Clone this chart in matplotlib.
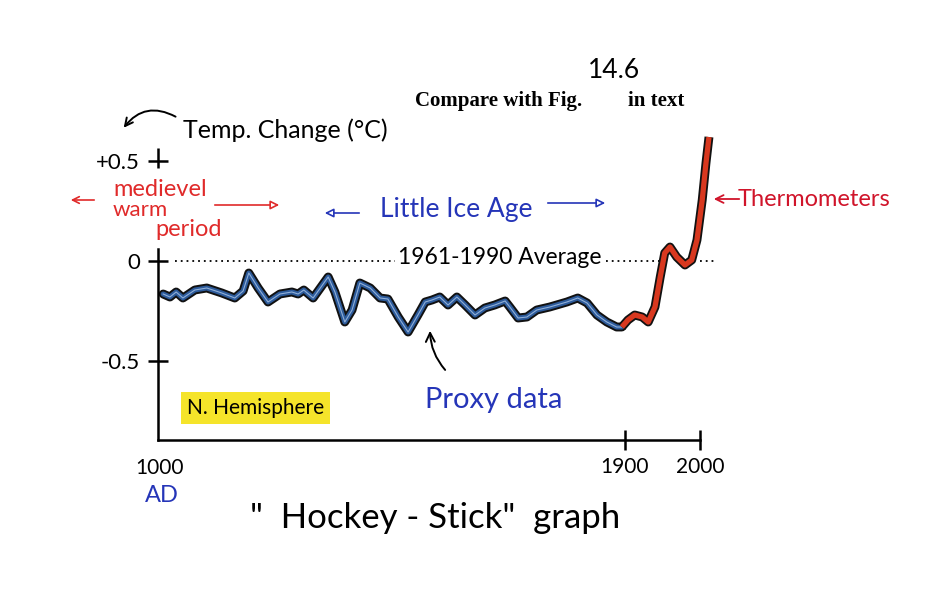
import numpy as np
import matplotlib
matplotlib.use('Agg')
import matplotlib.pyplot as plt
import matplotlib.patheffects as pe
from matplotlib.patches import FancyArrowPatch

# ---------------- data ----------------
proxy_years = [1010, 1023, 1035, 1048, 1071, 1094, 1123, 1148, 1164, 1175,
               1193, 1212, 1235, 1258, 1270, 1281, 1299, 1328, 1341, 1360,
               1374, 1389, 1409, 1428, 1443, 1463, 1482, 1501, 1515, 1528,
               1543, 1559, 1576, 1592, 1611, 1630, 1649, 1669, 1678, 1694,
               1711, 1730, 1755, 1788, 1809, 1827, 1846, 1865, 1884, 1894]
proxy_temps = [-0.165, -0.18, -0.155, -0.185, -0.145, -0.135, -0.16, -0.185, -0.15, -0.06,
               -0.135, -0.205, -0.165, -0.155, -0.165, -0.145, -0.185, -0.08, -0.155, -0.305,
               -0.245, -0.11, -0.135, -0.185, -0.19, -0.28, -0.355, -0.27, -0.205, -0.195,
               -0.18, -0.22, -0.18, -0.22, -0.27, -0.235, -0.22, -0.2, -0.23, -0.285,
               -0.28, -0.245, -0.23, -0.205, -0.185, -0.21, -0.27, -0.305, -0.33, -0.33]

thermo_years = [1894, 1904, 1913, 1923, 1931, 1940, 1947, 1953, 1960, 1969,
                1980, 1989, 1996, 2003, 2008, 2012]
thermo_temps = [-0.33, -0.295, -0.27, -0.28, -0.305, -0.23, -0.08, 0.04, 0.07, 0.02,
                -0.02, 0.005, 0.105, 0.305, 0.49, 0.62]

avg_segments = [(1033, 1457), (1863, 1958), (2000, 2020)]

x_ticks = [1900, 2000]
x_tick_labels = ['1900', '2000']
y_ticks = [0.5, 0, -0.5]
y_tick_labels = ['+0.5', '0', '-0.5']

# ---------------- figure ----------------
W, H = 928, 608
fig = plt.figure(figsize=(W / 100, H / 100), dpi=100)
fig.patch.set_facecolor('white')

def fx(px):
    return px / W

def fy(py):
    return 1 - py / H

HAND = ['Lato', 'DejaVu Sans']

ax = fig.add_axes([fx(158), fy(440), fx(720) - fx(158), fy(121) - fy(440)])
ax.set_facecolor('none')

def fwd(x):
    x = np.asarray(x, dtype=float)
    return np.where(x <= 1900, x - 1000, 900 + (x - 1900) * 1.4454)

def inv(u):
    u = np.asarray(u, dtype=float)
    return np.where(u <= 900, u + 1000, 1900 + (u - 900) / 1.4454)

ax.set_xscale('function', functions=(fwd, inv))
ax.set_xlim(1000, 2026.7)
ax.set_ylim(-0.895, 0.7)

for s in ['top', 'right']:
    ax.spines[s].set_visible(False)
ax.spines['left'].set_bounds(-0.895, 0.06)
ax.spines['bottom'].set_bounds(1000, 2000)
for s in ['left', 'bottom']:
    ax.spines[s].set_linewidth(1.8)
    ax.spines[s].set_color('black')

ax.set_xticks(x_ticks)
ax.set_xticklabels(x_tick_labels, family=HAND, fontsize=15)
ax.set_yticks(y_ticks)
ax.set_yticklabels(y_tick_labels, family=HAND, fontsize=16)
ax.tick_params(axis='x', direction='inout', length=14, width=1.8, pad=5)
ax.tick_params(axis='y', direction='inout', length=14, width=1.8, pad=6)
ax.minorticks_off()
# small vertical stroke of the +0.5 cross
ax.plot([1000, 1000], [0.465, 0.565], color='black', lw=1.8, clip_on=False,
        solid_capstyle='butt')

# dotted 1961-1990 average line
for a, b in avg_segments:
    ax.plot([a, b], [0, 0], color='black', lw=1.3, ls=(0, (1, 2.2)), clip_on=False)

# proxy curve (blue with black outline)
ax.plot(proxy_years, proxy_temps, color='#2c5a9a', lw=3.6, solid_joinstyle='round',
        solid_capstyle='round', clip_on=False,
        path_effects=[pe.Stroke(linewidth=6.4, foreground='#111111'), pe.Normal()])
ax.plot(proxy_years, proxy_temps, color='#a9c4e6', lw=0.8, alpha=0.8, clip_on=False)

# thermometer curve (red with black outline)
ax.plot(thermo_years, thermo_temps, color='#d8381f', lw=3.8, solid_joinstyle='round',
        solid_capstyle='butt', clip_on=False,
        path_effects=[pe.Stroke(linewidth=6.4, foreground='#111111'), pe.Normal()])

# ---------------- annotations ----------------
def arrow(p0, p1, color, style='-|>', lw=1.3, ms=12, fc=None, rad=0.0):
    a = FancyArrowPatch((fx(p0[0]), fy(p0[1])), (fx(p1[0]), fy(p1[1])),
                        transform=fig.transFigure, arrowstyle=style,
                        mutation_scale=ms, color=color, lw=lw,
                        connectionstyle=f'arc3,rad={rad}')
    if fc is not None:
        a.set_facecolor(fc)
    fig.add_artist(a)

fig.text(fx(588), fy(70), '14.6', family=HAND, fontsize=19, ha='left', va='center')
fig.text(fx(415), fy(101), 'Compare with Fig.', family='Liberation Serif',
         fontweight='bold', fontsize=15, ha='left', va='center')
fig.text(fx(628), fy(101), 'in text', family='Liberation Serif',
         fontweight='bold', fontsize=15, ha='left', va='center')

fig.text(fx(183), fy(130), 'Temp. Change (°C)', family=HAND, fontsize=18,
         ha='left', va='center')
arrow((178, 118), (122, 130), 'black', style='->', lw=1.4, ms=14, rad=0.45)

# medieval warm period (red)
red = '#e02a2a'
fig.text(fx(113), fy(190), 'medievel', family=HAND, fontsize=17, color=red,
         ha='left', va='center')
fig.text(fx(113), fy(210), 'warm', family=HAND, fontsize=16, color=red,
         ha='left', va='center')
fig.text(fx(155), fy(229), 'period', family=HAND, fontsize=17, color=red,
         ha='left', va='center')
arrow((97, 200), (68, 200), red, style='->', lw=1.2, ms=12)
arrow((212, 205), (282, 205), red, style='-|>', lw=1.2, ms=13, fc='white')

# Little Ice Age (blue)
blue = '#2535b8'
fig.text(fx(380), fy(210), 'Little Ice Age', family=HAND, fontsize=19, color=blue,
         ha='left', va='center')
arrow((362, 213), (322, 213), blue, style='-|>', lw=1.2, ms=13, fc='white')
arrow((545, 203), (608, 203), blue, style='-|>', lw=1.2, ms=13, fc='white')

fig.text(fx(398), fy(257), '1961-1990 Average', family=HAND, fontsize=16.5,
         ha='left', va='center')

# Thermometers
fig.text(fx(738), fy(200), 'Thermometers', family=HAND, fontsize=17, color='#d0142a',
         ha='left', va='center')
arrow((742, 199), (711, 199), '#d0142a', style='->', lw=1.3, ms=14)

# N. Hemisphere with highlighter
fig.text(fx(187), fy(408), 'N. Hemisphere', family=HAND, fontsize=15,
         ha='left', va='center',
         bbox=dict(boxstyle='square,pad=0.3', facecolor='#f5e42a', edgecolor='none'))

# Proxy data
fig.text(fx(425), fy(400), 'Proxy data', family=HAND, fontsize=21, color=blue,
         ha='left', va='center')
arrow((447, 372), (430, 328), 'black', style='->', lw=1.4, ms=16, rad=-0.2)

# axis end labels
fig.text(fx(160), fy(468), '1000', family=HAND, fontsize=15, ha='center', va='center')
fig.text(fx(162), fy(496), 'AD', family=HAND, fontsize=17, color=blue,
         ha='center', va='center')

fig.text(fx(250), fy(518), '"  Hockey - Stick"  graph', family=HAND, fontsize=25,
         ha='left', va='center')

fig.savefig('out.png', dpi=100, facecolor='white')
